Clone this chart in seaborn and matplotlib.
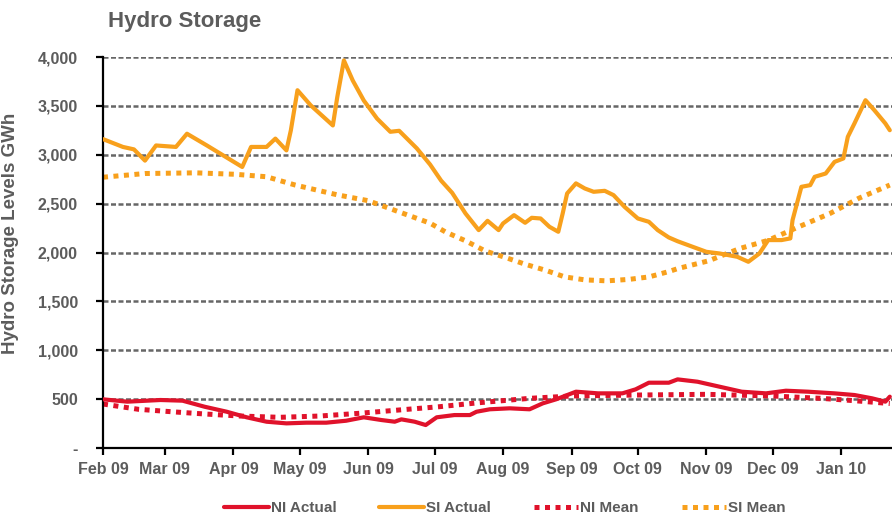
import pandas as pd
import numpy as np
import seaborn as sns
import matplotlib.pyplot as plt
import matplotlib.dates as mdates
from matplotlib.ticker import FuncFormatter

# South Island actual storage (GWh)
si_actual_dates = ['2009-02-01', '2009-02-10', '2009-02-15', '2009-02-20', '2009-02-25', '2009-03-06',
                   '2009-03-11', '2009-03-20', '2009-03-28', '2009-04-05', '2009-04-09', '2009-04-16',
                   '2009-04-20', '2009-04-25', '2009-04-27', '2009-04-30', '2009-05-06', '2009-05-16',
                   '2009-05-18', '2009-05-21', '2009-05-25', '2009-05-30', '2009-06-05', '2009-06-11',
                   '2009-06-15', '2009-06-23', '2009-06-29', '2009-07-04', '2009-07-09', '2009-07-15',
                   '2009-07-21', '2009-07-25', '2009-07-30', '2009-08-01', '2009-08-06', '2009-08-11',
                   '2009-08-14', '2009-08-18', '2009-08-22', '2009-08-26', '2009-08-28', '2009-08-30',
                   '2009-09-03', '2009-09-07', '2009-09-11', '2009-09-16', '2009-09-20', '2009-09-25',
                   '2009-10-01', '2009-10-06', '2009-10-10', '2009-10-15', '2009-10-19', '2009-10-25',
                   '2009-11-01', '2009-11-07', '2009-11-15', '2009-11-20', '2009-11-25', '2009-11-29',
                   '2009-12-05', '2009-12-09', '2009-12-10', '2009-12-14', '2009-12-18', '2009-12-20',
                   '2009-12-25', '2009-12-29', '2010-01-02', '2010-01-04', '2010-01-07', '2010-01-12',
                   '2010-01-16', '2010-01-21', '2010-01-23']
si_actual = [3160, 3080, 3055, 2940, 3095, 3080,
             3215, 3095, 2985, 2875, 3080, 3080,
             3165, 3045, 3250, 3660, 3505, 3300,
             3590, 3965, 3760, 3555, 3370, 3235,
             3245, 3065, 2900, 2735, 2610, 2400,
             2229, 2324, 2229, 2297, 2382, 2304,
             2355, 2348, 2263, 2212, 2400, 2604,
             2707, 2655, 2621, 2631, 2587, 2467,
             2348, 2314, 2229, 2154, 2115, 2065,
             2007, 1990, 1956, 1905, 1990, 2127,
             2127, 2144, 2331, 2672, 2689, 2774,
             2808, 2927, 2962, 3183, 3320, 3558,
             3456, 3320, 3251]

# South Island mean storage (GWh)
si_mean_dates = ['2009-02-01', '2009-02-20', '2009-03-15', '2009-04-02', '2009-04-16', '2009-04-29',
                 '2009-05-18', '2009-06-01', '2009-06-15', '2009-06-29', '2009-07-06', '2009-07-15',
                 '2009-07-24', '2009-08-02', '2009-08-11', '2009-08-20', '2009-08-29', '2009-09-07',
                 '2009-09-17', '2009-09-27', '2009-10-06', '2009-10-15', '2009-10-19', '2009-11-02',
                 '2009-11-16', '2009-11-29', '2009-12-13', '2009-12-27', '2010-01-09', '2010-01-23']
si_mean = [2770, 2808, 2815, 2800, 2775, 2690,
           2590, 2530, 2415, 2300, 2210, 2120,
           2015, 1950, 1880, 1820, 1750, 1720,
           1710, 1725, 1750, 1805, 1835, 1915,
           2040, 2125, 2265, 2400, 2555, 2690]

# North Island actual storage (GWh)
ni_actual_dates = ['2009-02-01', '2009-02-12', '2009-02-27', '2009-03-09', '2009-03-19', '2009-03-29',
                   '2009-04-07', '2009-04-16', '2009-04-25', '2009-05-04', '2009-05-13', '2009-05-22',
                   '2009-05-30', '2009-06-07', '2009-06-13', '2009-06-16', '2009-06-22', '2009-06-27',
                   '2009-07-02', '2009-07-10', '2009-07-17', '2009-07-20', '2009-07-26', '2009-08-04',
                   '2009-08-13', '2009-08-19', '2009-08-25', '2009-09-03', '2009-09-13', '2009-09-24',
                   '2009-09-30', '2009-10-06', '2009-10-15', '2009-10-19', '2009-10-28', '2009-11-07',
                   '2009-11-17', '2009-11-28', '2009-12-07', '2009-12-17', '2009-12-29', '2010-01-07',
                   '2010-01-15', '2010-01-21', '2010-01-23']
ni_actual = [498, 474, 491, 484, 422, 371,
             314, 269, 252, 259, 259, 279,
             314, 286, 269, 293, 269, 235,
             314, 337, 337, 371, 396, 406,
             396, 457, 498, 576, 559, 559,
             600, 668, 668, 702, 678, 627,
             576, 559, 586, 576, 559, 542,
             508, 474, 525]

# North Island mean storage (GWh)
ni_mean_dates = ['2009-02-01', '2009-02-17', '2009-03-04', '2009-03-19', '2009-04-04', '2009-04-22',
                 '2009-05-10', '2009-05-28', '2009-06-15', '2009-07-03', '2009-07-21', '2009-08-13',
                 '2009-09-01', '2009-10-01', '2009-11-01', '2009-12-01', '2009-12-23', '2010-01-07',
                 '2010-01-23']
ni_mean = [450, 396, 371, 348, 327, 314,
           327, 355, 389, 422, 463, 508,
           532, 542, 549, 532, 508, 484,
           455]

y_ticks = [0, 500, 1000, 1500, 2000, 2500, 3000, 3500, 4000]

red = '#E0122B'
orange = '#F8A01C'
text_grey = '#5C5C5C'

sns.set_style('white')
plt.rcParams['font.family'] = ['Liberation Sans', 'DejaVu Sans']

fig, ax = plt.subplots(figsize=(8.92, 5.21), dpi=100)
fig.subplots_adjust(left=103 / 892, right=1.0, bottom=1 - 448 / 521, top=1 - 57 / 521)

for yv in y_ticks[1:]:
    ax.axhline(yv, color='#666666', lw=1.8, linestyle=(0, (2, 1)), zorder=1)

sns.lineplot(x=pd.to_datetime(ni_actual_dates), y=ni_actual, ax=ax, color=red, lw=3.0,
             label='NI Actual', zorder=3)
sns.lineplot(x=pd.to_datetime(si_actual_dates), y=si_actual, ax=ax, color=orange, lw=3.0,
             label='SI Actual', zorder=3)
sns.lineplot(x=pd.to_datetime(ni_mean_dates), y=ni_mean, ax=ax, color=red, lw=3.6,
             linestyle=(0, (1, 1.1)), label='NI Mean', zorder=2)
sns.lineplot(x=pd.to_datetime(si_mean_dates), y=si_mean, ax=ax, color=orange, lw=3.6,
             linestyle=(0, (1, 1.1)), label='SI Mean', zorder=2)

ax.set_ylim(0, 4000)
ax.set_xlim(pd.Timestamp('2009-02-01'), pd.Timestamp('2010-01-24'))
ax.set_yticks(y_ticks)
ax.yaxis.set_major_formatter(FuncFormatter(lambda v, p: '-' if v == 0 else f'{int(v):,}'))
ax.xaxis.set_major_locator(mdates.MonthLocator())
ax.xaxis.set_major_formatter(mdates.DateFormatter('%b %y'))

for s in ['top', 'right']:
    ax.spines[s].set_visible(False)
for s in ['left', 'bottom']:
    ax.spines[s].set_color('black')
    ax.spines[s].set_linewidth(1.6)
ax.tick_params(axis='both', which='major', direction='out', length=5, width=1.6, color='black',
               labelsize=11.5, labelcolor=text_grey, left=True, bottom=True)
ax.tick_params(axis='y', pad=13)
ax.tick_params(axis='x', pad=5)
for lbl in ax.get_xticklabels() + ax.get_yticklabels():
    lbl.set_fontweight('bold')

ax.set_xlabel('')
ax.set_ylabel('Hydro Storage Levels GWh', fontsize=13.5, fontweight='bold', color=text_grey)
ax.yaxis.set_label_coords((19 - 103) / (892 - 103), (448 - 233) / (448 - 57))

fig.text(108 / 892, 1 - 22 / 521, 'Hydro Storage', fontsize=16, fontweight='bold',
         color=text_grey, va='center', ha='left')

ax.get_legend().remove()
handles, labels = ax.get_legend_handles_labels()
leg = fig.legend(handles, labels, loc='center', bbox_to_anchor=(505 / 892, 1 - 508 / 521), ncol=4,
                 frameon=False, handlelength=2.9, columnspacing=2.8, handletextpad=0.15,
                 prop={'size': 11, 'weight': 'bold'})
for t in leg.get_texts():
    t.set_color(text_grey)

fig.savefig('out.png', dpi=100)
